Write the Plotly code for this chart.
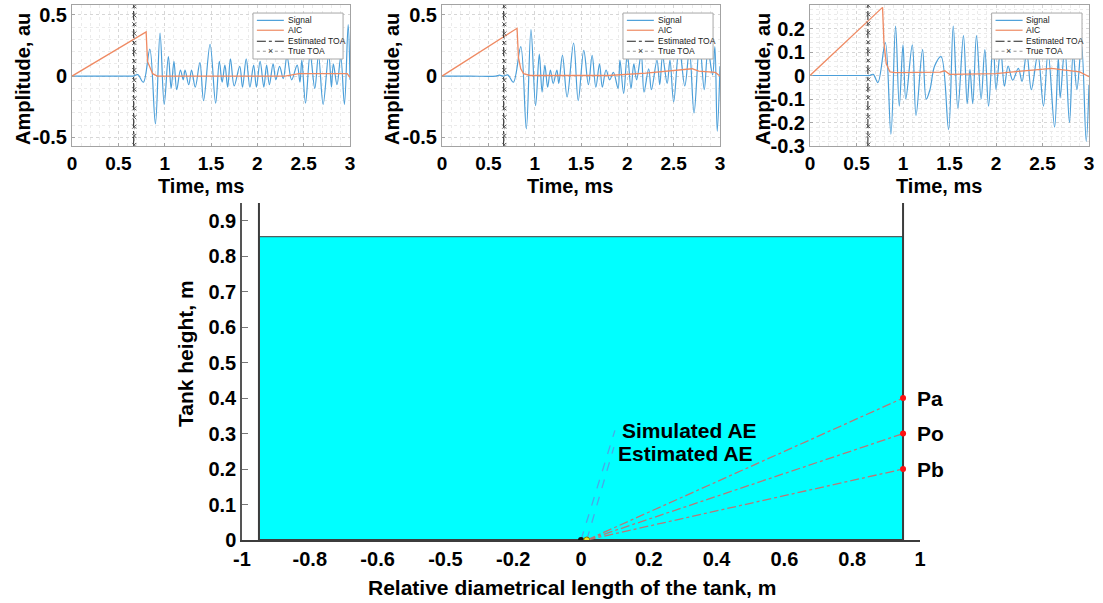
import plotly.graph_objects as go

FONT = "Liberation Sans, Arial, sans-serif"
W, H = 1103, 603

# ---------------- Top panels data ----------------
# Panel 1
sig1_t = [0, 0.30, 0.62, 0.66, 0.71, 0.77, 0.84, 0.90, 0.95, 0.995, 1.04, 1.07, 1.10, 1.13, 1.17, 1.20,
          1.22, 1.26, 1.29, 1.33, 1.38, 1.42, 1.49, 1.55, 1.59, 1.62, 1.65, 1.68, 1.71, 1.75, 1.81,
          1.84, 1.88, 1.92, 1.96, 1.99, 2.03, 2.07, 2.10, 2.13, 2.17, 2.20, 2.24, 2.28, 2.32, 2.37,
          2.43, 2.46, 2.48, 2.52, 2.57, 2.62, 2.66, 2.71, 2.77, 2.80, 2.82, 2.86, 2.90, 2.94, 2.98, 3.0]
sig1_v = [0, 0, 0, 0.0, 0.012, -0.05, 0.22, -0.39, 0.35, -0.23, 0.16, -0.10, 0.12, -0.11, 0.05, -0.03,
          0.05, -0.07, 0.05, -0.09, 0.11, -0.20, 0.26, -0.22, 0.12, -0.05, 0.09, -0.09, 0.14, -0.08, 0.08,
          -0.09, 0.14, -0.09, 0.09, -0.09, 0.12, -0.09, 0.09, -0.07, 0.10, -0.03, 0.08, -0.02, 0.16, -0.03,
          0.09, -0.05, 0.13, -0.22, 0.18, -0.10, 0.17, -0.23, 0.18, -0.09, 0.10, -0.07, 0.16, -0.23, 0.42, -0.03]
aic1_t = [0, 0.80, 0.815, 0.84, 0.87, 0.92, 2.30, 2.45, 2.97, 3.0]
aic1_v = [0, 0.36, 0.12, 0.07, 0.02, 0.0, 0.0, 0.02, 0.02, -0.01]
toa1_est, toa1_true = 0.665, 0.672

# Panel 2
sig2_t = [0, 0.30, 0.58, 0.62, 0.66, 0.71, 0.77, 0.85, 0.91, 0.96, 1.01, 1.05, 1.08, 1.11, 1.14, 1.17,
          1.20, 1.24, 1.26, 1.30, 1.35, 1.42, 1.47, 1.53, 1.58, 1.62, 1.66, 1.70, 1.73, 1.77, 1.81,
          1.85, 1.90, 1.92, 1.96, 2.00, 2.04, 2.07, 2.10, 2.15, 2.18, 2.23, 2.26, 2.32, 2.35, 2.38,
          2.43, 2.46, 2.50, 2.56, 2.62, 2.67, 2.72, 2.78, 2.83, 2.87, 2.92, 2.945, 2.97, 3.0]
sig2_v = [0, 0, 0, 0.008, 0, 0.01, -0.05, 0.24, -0.43, 0.38, -0.24, 0.18, -0.13, 0.09, -0.09, 0.05,
          -0.06, 0.05, -0.06, 0.17, -0.17, 0.27, -0.20, 0.21, -0.07, 0.17, -0.09, 0.10, -0.09, 0.05, -0.03,
          0.03, -0.10, 0.13, -0.14, 0.18, -0.10, 0.10, -0.03, 0.18, -0.13, 0.06, -0.11, 0.13, -0.07, 0.16,
          -0.06, 0.13, -0.21, 0.24, -0.08, 0.21, -0.30, 0.27, -0.11, 0.21, 0.01, 0.24, -0.45, 0.08]
aic2_t = [0, 0.81, 0.825, 0.85, 0.88, 0.95, 1.80, 2.20, 2.70, 2.77, 2.95, 3.0]
aic2_v = [0, 0.39, 0.15, 0.06, 0.02, 0.005, 0.005, 0.025, 0.06, 0.04, 0.03, 0.0]
toa2_est, toa2_true = 0.665, 0.672

# Panel 3
sig3_t = [0, 0.30, 0.60, 0.64, 0.68, 0.73, 0.81, 0.87, 0.92, 0.96, 1.00, 1.03, 1.10, 1.14, 1.21, 1.25,
          1.29, 1.34, 1.41, 1.49, 1.54, 1.59, 1.65, 1.69, 1.72, 1.75, 1.79, 1.84, 1.88, 1.92, 1.97,
          2.00, 2.05, 2.09, 2.13, 2.18, 2.24, 2.28, 2.33, 2.38, 2.45, 2.51, 2.56, 2.63, 2.67, 2.69,
          2.74, 2.79, 2.83, 2.87, 2.92, 2.97, 3.0]
sig3_v = [0, 0, 0, 0, 0.005, -0.03, 0.14, -0.25, 0.21, -0.13, 0.13, -0.10, 0.13, -0.17, 0.11, -0.10,
          -0.06, 0.04, 0.08, -0.23, 0.21, -0.14, 0.17, -0.12, 0.025, -0.12, 0.17, -0.10, 0.11, -0.13, 0.15,
          -0.06, 0.11, -0.045, 0.04, -0.02, 0.03, -0.025, 0.10, -0.06, 0.09, -0.13, 0.10, -0.22, 0.075, -0.095,
          0.12, -0.20, 0.10, -0.06, 0.13, -0.28, -0.04]
aic3_t = [0, 0.78, 0.795, 0.82, 0.86, 0.92, 1.40, 1.45, 1.50, 2.00, 2.30, 2.60, 2.70, 2.90, 3.0]
aic3_v = [0, 0.29, 0.14, 0.05, 0.015, 0.012, 0.014, 0.02, 0.005, 0.008, 0.02, 0.03, 0.025, 0.015, -0.005]
toa3_est, toa3_true = 0.622, 0.627

# True TOA marker heights
true_marks_05 = [0.569, 0.496, 0.423, 0.347, 0.271, 0.198, 0.122, 0.049, -0.033, -0.108, -0.182,
                 -0.263, -0.336, -0.412, -0.488, -0.561]
true_marks_03 = [0.298, 0.26, 0.221, 0.182, 0.142, 0.103, 0.064, 0.026, -0.017, -0.057, -0.095,
                 -0.137, -0.176, -0.216, -0.255, -0.294]

time_ticks = [0, 0.5, 1, 1.5, 2, 2.5, 3]
amp_ticks_12 = [-0.5, 0, 0.5]
amp_labels_12 = ["-0.5", "0", "0.5"]
amp_ticks_3 = [-0.3, -0.2, -0.1, 0, 0.1, 0.2, 0.3]
amp_labels_3 = ["-0.3", "-0.2", "-0.1", "0", "0.1", "0.2", "0.3"]

# ---------------- Bottom panel data ----------------
tank_half_width = 0.95
tank_height = 0.95
water_level = 0.855
sensor_names = ["Pa", "Po", "Pb"]
sensor_x = [0.95, 0.95, 0.95]
sensor_y = [0.4, 0.3, 0.2]
sim_ae = (0.0, 0.0)
est_ae = (0.017, 0.0)
sim_label_pt = (0.10, 0.309)
est_label_pt = (0.097, 0.262)
diam_ticks = [-1, -0.8, -0.6, -0.4, -0.2, 0, 0.2, 0.4, 0.6, 0.8, 1]
diam_labels = ["-1", "-0.8", "-0.6", "-0.5", "-0.2", "0", "0.2", "0.4", "0.6", "0.8", "1"]
height_ticks = [0, 0.1, 0.2, 0.3, 0.4, 0.5, 0.6, 0.7, 0.8, 0.9]
height_labels = ["0", "0.1", "0.2", "0.3", "0.4", "0.5", "0.6", "0.7", "0.8", "0.9"]

SIG_COL = "#4c9fd9"
AIC_COL = "#ef8a63"

fig = go.Figure()

panels = [
    (sig1_t, sig1_v, aic1_t, aic1_v, toa1_est, toa1_true, true_marks_05, [-0.57, 0.58], "x", "y"),
    (sig2_t, sig2_v, aic2_t, aic2_v, toa2_est, toa2_true, true_marks_05, [-0.57, 0.58], "x2", "y2"),
    (sig3_t, sig3_v, aic3_t, aic3_v, toa3_est, toa3_true, true_marks_03, [-0.3, 0.3], "x3", "y3"),
]

for st, sv, at, av, te, tt, marks, yr, xa, ya in panels:
    fig.add_trace(go.Scatter(x=st, y=sv, mode="lines", line=dict(color=SIG_COL, width=1.2, shape="spline", smoothing=1.0),
                             xaxis=xa, yaxis=ya, showlegend=False))
    fig.add_trace(go.Scatter(x=at, y=av, mode="lines", line=dict(color=AIC_COL, width=1.3),
                             xaxis=xa, yaxis=ya, showlegend=False))
    fig.add_trace(go.Scatter(x=[te, te], y=yr, mode="lines", line=dict(color="#222222", width=1, dash="dashdot"),
                             xaxis=xa, yaxis=ya, showlegend=False))
    fig.add_trace(go.Scatter(x=[tt] * len(marks), y=marks, mode="lines+markers",
                             line=dict(color="#999999", width=1, dash="dot"),
                             marker=dict(symbol="x-thin", size=4, line=dict(color="#555555", width=1)),
                             xaxis=xa, yaxis=ya, showlegend=False))

# Bottom panel traces
hw = tank_half_width
fig.add_trace(go.Scatter(x=[-hw, hw, hw, -hw, -hw], y=[0, 0, water_level, water_level, 0],
                         mode="lines", fill="toself", fillcolor="#00ffff",
                         line=dict(color="#3a3a3a", width=1), xaxis="x4", yaxis="y4", showlegend=False))
fig.add_trace(go.Scatter(x=[-hw, -hw, hw, hw], y=[tank_height, 0, 0, tank_height], mode="lines",
                         line=dict(color="#3c3c3c", width=2), xaxis="x4", yaxis="y4", showlegend=False))
for sx, sy in zip(sensor_x, sensor_y):
    fig.add_trace(go.Scatter(x=[est_ae[0], sx], y=[est_ae[1], sy], mode="lines",
                             line=dict(color="#b87878", width=1.3, dash="dashdot"),
                             xaxis="x4", yaxis="y4", showlegend=False))
fig.add_trace(go.Scatter(x=[sim_ae[0], sim_label_pt[0]], y=[sim_ae[1], sim_label_pt[1]], mode="lines",
                         line=dict(color="#4aa8e6", width=1.3, dash="dash"), xaxis="x4", yaxis="y4", showlegend=False))
fig.add_trace(go.Scatter(x=[est_ae[0], est_label_pt[0]], y=[est_ae[1], est_label_pt[1]], mode="lines",
                         line=dict(color="#4aa8e6", width=1.3, dash="dash"), xaxis="x4", yaxis="y4", showlegend=False))
fig.add_trace(go.Scatter(x=sensor_x, y=sensor_y, mode="markers", marker=dict(color="#ff1010", size=6),
                         xaxis="x4", yaxis="y4", showlegend=False))
fig.add_trace(go.Scatter(x=[sim_ae[0]], y=[sim_ae[1]], mode="markers", marker=dict(color="#111111", size=6),
                         xaxis="x4", yaxis="y4", showlegend=False))
fig.add_trace(go.Scatter(x=[est_ae[0]], y=[est_ae[1]], mode="markers",
                         marker=dict(color="#f0e020", size=6, line=dict(color="#8a7a00", width=1)),
                         xaxis="x4", yaxis="y4", showlegend=False))

tickfont = dict(family=FONT, size=20, color="#000000", weight="bold")
tickfont_top_x = dict(family=FONT, size=19, color="#000000", weight="bold")
grid_major = dict(showgrid=True, gridcolor="#d6d6d6", griddash="dot", gridwidth=1)


def top_x(domain, anchor):
    return dict(domain=domain, anchor=anchor, range=[0, 3], tickmode="array", tickvals=time_ticks,
                ticktext=[("%g" % v) for v in time_ticks], tickfont=tickfont_top_x, automargin=False,
                showline=True, mirror=True, linecolor="#a3a3a3", linewidth=1,
                ticks="inside", ticklen=3, tickcolor="#a3a3a3", zeroline=False, ticklabelstandoff=0,
                minor=dict(tickmode="linear", tick0=0, dtick=0.1, showgrid=True, gridcolor="#ebebeb", griddash="dot"),
                **grid_major)


def top_y(domain, anchor, rng, tv, tt, mdt):
    return dict(domain=domain, anchor=anchor, range=rng, tickmode="array", tickvals=tv, ticktext=tt,
                tickfont=tickfont, showline=True, mirror=True, linecolor="#a3a3a3", linewidth=1,
                ticks="inside", ticklen=3, tickcolor="#a3a3a3", zeroline=False, automargin=False,
                minor=dict(tickmode="linear", tick0=0, dtick=mdt, showgrid=True, gridcolor="#ebebeb", griddash="dot"),
                **grid_major)


ytop = [1 - 146 / H, 1 - 5 / H]
fig.update_layout(
    width=W, height=H, margin=dict(l=0, r=0, t=0, b=0, autoexpand=False),
    paper_bgcolor="white", plot_bgcolor="white",
    font=dict(family=FONT, color="#000000"),
    showlegend=False,
    xaxis=top_x([72 / W, 350 / W], "y"),
    yaxis=top_y(ytop, "x", [-0.57, 0.58], amp_ticks_12, amp_labels_12, 0.1),
    xaxis2=top_x([442 / W, 720 / W], "y2"),
    yaxis2=top_y(ytop, "x2", [-0.57, 0.58], amp_ticks_12, amp_labels_12, 0.1),
    xaxis3=top_x([810 / W, 1089 / W], "y3"),
    yaxis3=top_y(ytop, "x3", [-0.3, 0.3], amp_ticks_3, amp_labels_3, 0.02),
    xaxis4=dict(domain=[242 / W, 920 / W], anchor="y4", range=[-1, 1], tickmode="array",
                tickvals=diam_ticks, ticktext=diam_labels, tickfont=tickfont, showgrid=False, zeroline=False,
                showline=True, linecolor="#3c3c3c", linewidth=2, ticks="inside", ticklen=5,
                tickcolor="#555555", layer="below traces", automargin=False, ticklabelstandoff=0),
    yaxis4=dict(domain=[1 - 540 / H, 1 - 203 / H], anchor="x4", range=[0, 0.95], tickmode="array",
                tickvals=height_ticks, ticktext=height_labels, tickfont=tickfont, showgrid=False, zeroline=False,
                showline=True, linecolor="#555555", linewidth=1.5, ticks="inside", ticklen=6,
                tickcolor="#777777", layer="below traces", automargin=False),
)

shapes = []
annotations = []

# Custom legends inside each top panel
legend_rows = [("Signal", SIG_COL, "solid", 0.891), ("AIC", AIC_COL, "solid", 0.821),
               ("Estimated TOA", "#222222", "dashdot", 0.743), ("True TOA", "#999999", "dot", 0.672)]
for xa, ya in [("x", "y"), ("x2", "y2"), ("x3", "y3")]:
    xr, yr = xa + " domain", ya + " domain"
    shapes.append(dict(type="rect", xref=xr, yref=yr, x0=0.651, x1=0.975, y0=0.617, y1=0.943,
                       fillcolor="white", line=dict(color="#a8a8a8", width=1), layer="above"))
    for name, col, dash, yy in legend_rows:
        shapes.append(dict(type="line", xref=xr, yref=yr, x0=0.665, x1=0.762, y0=yy, y1=yy,
                           line=dict(color=col, width=1.2, dash=dash), layer="above"))
        annotations.append(dict(xref=xr, yref=yr, x=0.768, y=yy, text=name, showarrow=False,
                                xanchor="left", yanchor="middle", font=dict(family=FONT, size=8.5, color="#222222")))
    annotations.append(dict(xref=xr, yref=yr, x=0.713, y=0.672, text="×", showarrow=False,
                            xanchor="center", yanchor="middle", font=dict(family=FONT, size=9, color="#444444")))

# Axis titles
title_font = dict(family=FONT, size=20, color="#000000", weight="bold")
for xc in [201, 570, 939]:
    annotations.append(dict(xref="paper", yref="paper", x=xc / W, y=1 - 186 / H, text="Time, ms",
                            showarrow=False, xanchor="center", yanchor="middle", font=title_font))
for xc in [23, 392, 763]:
    annotations.append(dict(xref="paper", yref="paper", x=xc / W, y=1 - 79 / H, text="Amplitude, au",
                            showarrow=False, xanchor="center", yanchor="middle", textangle=-90, font=title_font))
annotations.append(dict(xref="paper", yref="paper", x=185 / W, y=1 - 354 / H, text="Tank height, m",
                        showarrow=False, xanchor="center", yanchor="middle", textangle=-90,
                        font=dict(family=FONT, size=21, color="#000000", weight="bold")))
annotations.append(dict(xref="paper", yref="paper", x=572 / W, y=1 - 587 / H,
                        text="Relative diametrical length of the tank, m",
                        showarrow=False, xanchor="center", yanchor="middle",
                        font=dict(family=FONT, size=21, color="#000000", weight="bold")))

# Bottom panel labels
lab_font = dict(family=FONT, size=21, color="#000000", weight="bold")
for nm, sx, sy in zip(sensor_names, sensor_x, sensor_y):
    annotations.append(dict(xref="x4", yref="y4", x=sx, y=sy, text=nm, showarrow=False,
                            xanchor="left", yanchor="middle", xshift=12, font=lab_font))
annotations.append(dict(xref="x4", yref="y4", x=0.115, y=0.309, text="Simulated AE", showarrow=False,
                        xanchor="left", yanchor="middle", font=lab_font))
annotations.append(dict(xref="x4", yref="y4", x=0.103, y=0.245, text="Estimated AE", showarrow=False,
                        xanchor="left", yanchor="middle", font=lab_font))

fig.update_layout(shapes=shapes, annotations=annotations)
fig.write_html("out.html")
